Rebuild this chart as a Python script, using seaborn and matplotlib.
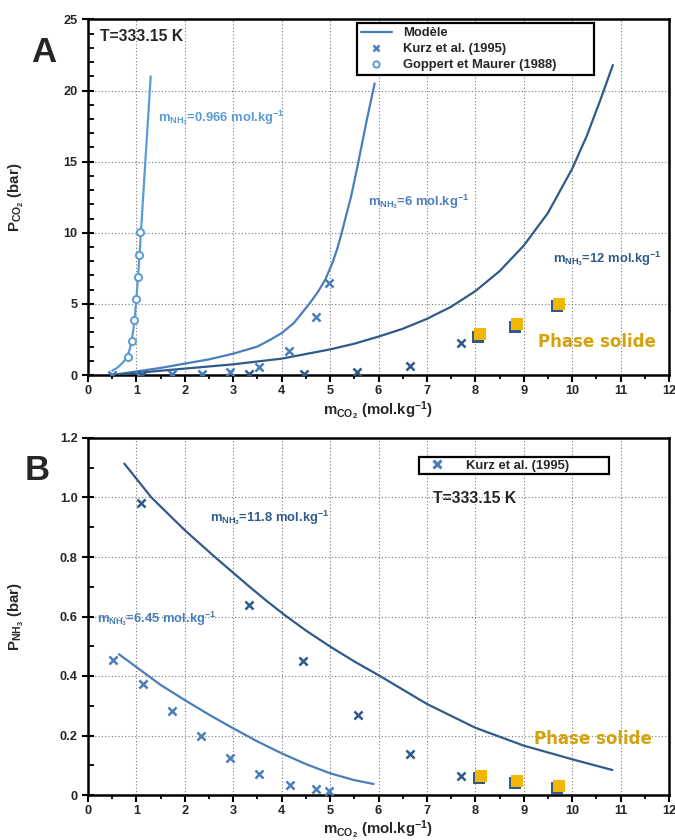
import numpy as np
import pandas as pd
import matplotlib
matplotlib.use("Agg")
import matplotlib.pyplot as plt
import matplotlib.transforms as mtransforms
from matplotlib.lines import Line2D
from matplotlib.ticker import MultipleLocator, FuncFormatter
import seaborn as sns

# ---------------- Panel A data (P_CO2) ----------------
modelA_0966_m = [0.5, 0.6, 0.7, 0.8, 0.87, 0.92, 0.96, 1.0, 1.04, 1.08, 1.12, 1.18, 1.24, 1.295]
modelA_0966_P = [0.3, 0.5, 0.8, 1.2, 1.9, 2.8, 3.8, 5.4, 7.2, 9.3, 11.5, 14.8, 18.0, 21.0]

modelA_6_m = [0.5, 1.0, 1.5, 2.0, 2.5, 3.0, 3.5, 3.75, 4.0, 4.25, 4.57, 4.75, 4.9, 5.05, 5.15,
              5.24, 5.33, 5.43, 5.5, 5.585, 5.75, 5.92]
modelA_6_P = [0.0, 0.25, 0.5, 0.8, 1.1, 1.5, 2.0, 2.45, 2.95, 3.65, 5.0, 5.85, 6.7, 7.9, 8.9,
              10.0, 11.2, 12.5, 13.6, 15.0, 17.8, 20.5]

modelA_12_m = [0.5, 1.0, 2.0, 3.0, 4.0, 5.0, 5.5, 6.0, 6.5, 7.0, 7.5, 8.0, 8.5, 9.0, 9.5, 10.0,
               10.3, 10.6, 10.84]
modelA_12_P = [0.0, 0.15, 0.45, 0.75, 1.15, 1.8, 2.2, 2.7, 3.25, 3.95, 4.8, 5.9, 7.3, 9.1, 11.4,
               14.5, 16.8, 19.5, 21.8]

kurzA_6_m = [0.5, 1.05, 1.73, 2.35, 2.93, 3.53, 4.16, 4.70, 4.97]
kurzA_6_P = [0.0, 0.0, 0.07, 0.1, 0.2, 0.57, 1.7, 4.1, 6.5]
kurzA_12_m = [1.12, 3.33, 4.46, 5.56, 6.65, 7.71]
kurzA_12_P = [0.0, 0.05, 0.07, 0.18, 0.65, 2.23]
solidA_m = [8.09, 8.84, 9.72]
solidA_P = [2.8, 3.5, 4.95]
goppert_m = [0.83, 0.90, 0.957, 0.99, 1.03, 1.05, 1.08]
goppert_P = [1.24, 2.37, 3.89, 5.34, 6.9, 8.43, 10.07]

# ---------------- Panel B data (P_NH3) ----------------
modelB_118_m = [0.75, 1.31, 2.0, 2.62, 3.3, 3.7, 4.07, 4.5, 5.0, 5.5, 6.03, 7.0, 8.0, 9.0, 10.0, 10.83]
modelB_118_P = [1.114, 1.0, 0.89, 0.8, 0.705, 0.651, 0.604, 0.553, 0.499, 0.449, 0.4, 0.306,
                0.226, 0.166, 0.12, 0.084]
modelB_645_m = [0.64, 1.0, 1.5, 2.0, 2.5, 3.0, 3.5, 4.0, 4.5, 5.0, 5.5, 5.9]
modelB_645_P = [0.473, 0.43, 0.37, 0.319, 0.27, 0.224, 0.18, 0.140, 0.104, 0.073, 0.05, 0.037]

kurzB_645_m = [0.52, 1.13, 1.73, 2.33, 2.94, 3.53, 4.17, 4.70, 4.97]
kurzB_645_P = [0.453, 0.372, 0.281, 0.197, 0.123, 0.069, 0.034, 0.019, 0.013]
kurzB_118_m = [1.10, 3.33, 4.45, 5.57, 6.66, 7.71]
kurzB_118_P = [0.981, 0.638, 0.449, 0.270, 0.139, 0.065]
solidB_m = [8.1, 8.84, 9.72]
solidB_P = [0.062, 0.045, 0.028]

# colours
c_light = "#5B9BD5"
c_mid = "#4A7EBB"
c_dark = "#2F5A8A"
c_gold = "#F2B705"
c_gold_txt = "#D4A20C"

sns.set_theme(style="ticks")
plt.rcParams["font.family"] = ["Liberation Sans", "DejaVu Sans"]
plt.rcParams["font.weight"] = "bold"
plt.rcParams["mathtext.fontset"] = "custom"
plt.rcParams["mathtext.rm"] = "Liberation Sans:bold"
plt.rcParams["mathtext.it"] = "Liberation Sans:bold"
plt.rcParams["mathtext.bf"] = "Liberation Sans:bold"
plt.rcParams["mathtext.sf"] = "Liberation Sans:bold"

fig = plt.figure(figsize=(6.75, 8.4), dpi=100)
axA = fig.add_axes([88 / 675, 1 - 375 / 840, 581 / 675, 355.5 / 840])
axB = fig.add_axes([88 / 675, 1 - 795 / 840, 581 / 675, 357 / 840])

TICK_FS = 9.2
LAB_FS = 10.8
NOTE_FS = 9.4


def style(ax, ymax, ymaj, ymin, yfmt):
    ax.set_xlim(0, 12)
    ax.set_ylim(0, ymax)
    ax.xaxis.set_major_locator(MultipleLocator(1))
    ax.xaxis.set_minor_locator(MultipleLocator(0.5))
    ax.yaxis.set_major_locator(MultipleLocator(ymaj))
    ax.yaxis.set_minor_locator(MultipleLocator(ymin))
    ax.yaxis.set_major_formatter(FuncFormatter(yfmt))
    ax.xaxis.set_major_formatter(FuncFormatter(lambda v, p: f"{int(round(v))}"))
    ax.grid(True, which="major", ls=(0, (1, 2)), color="#777777", lw=0.8)
    ax.set_axisbelow(True)
    for s in ax.spines.values():
        s.set_visible(True)
        s.set_linewidth(1.8)
        s.set_color("black")
    ax.tick_params(axis="x", which="major", direction="out", length=5, width=1.5,
                   labelsize=TICK_FS, color="black", pad=2)
    ax.tick_params(axis="x", which="minor", direction="out", length=3, width=1.3, color="black")
    ax.tick_params(axis="y", which="major", direction="inout", length=8, width=1.5,
                   labelsize=TICK_FS, color="black", pad=3.5)
    ax.tick_params(axis="y", which="minor", direction="in", length=4, width=1.3, color="black")
    ax.set_facecolor("white")


def curve(ax, m, P, color):
    df = pd.DataFrame({"m": m, "P": P})
    sns.lineplot(data=df, x="m", y="P", ax=ax, color=color, lw=1.6,
                 sort=False, estimator=None, zorder=3)


def crosses(ax, m, P, color):
    sns.scatterplot(x=m, y=P, ax=ax, marker="x", s=34, color=color,
                    linewidth=1.8, zorder=5)


def solids(ax, m, P):
    shadow = mtransforms.offset_copy(ax.transData, fig=fig, x=-1.5, y=-1.5, units="dots")
    front = mtransforms.offset_copy(ax.transData, fig=fig, x=0.8, y=0.8, units="dots")
    ax.scatter(m, P, marker="s", s=80, color=c_dark, linewidths=0, zorder=6, transform=shadow)
    ax.scatter(m, P, marker="s", s=80, color=c_gold, linewidths=0, zorder=7, transform=front)


# ---------------- Panel A ----------------
style(axA, 25, 5, 1, lambda v, p: f"{int(round(v))}")
curve(axA, modelA_0966_m, modelA_0966_P, c_light)
curve(axA, modelA_6_m, modelA_6_P, c_mid)
curve(axA, modelA_12_m, modelA_12_P, c_dark)
crosses(axA, kurzA_6_m, kurzA_6_P, c_mid)
crosses(axA, kurzA_12_m, kurzA_12_P, c_dark)
axA.scatter(goppert_m, goppert_P, marker="o", s=26, facecolors="white",
            edgecolors=c_light, linewidths=1.4, zorder=5)
solids(axA, solidA_m, solidA_P)
axA.set_xlim(0, 12)
axA.set_ylim(0, 25)

axA.set_xlabel(r"$m_{CO_2}$ (mol.kg$^{-1}$)", fontsize=LAB_FS, fontweight="bold")
axA.set_ylabel(r"$P_{CO_2}$ (bar)", fontsize=LAB_FS, fontweight="bold")
axA.xaxis.set_label_coords(0.5, -0.068)
axA.yaxis.set_label_coords(-0.106, 0.5)

axA.text(0.25, 23.8, "T=333.15 K", fontsize=11.3, fontweight="bold", ha="left", va="center")
axA.text(1.45, 17.8, r"$m_{NH_3}$=0.966 mol.kg$^{-1}$", fontsize=NOTE_FS, color=c_light,
         fontweight="bold", ha="left", va="baseline")
axA.text(5.79, 11.9, r"$m_{NH_3}$=6 mol.kg$^{-1}$", fontsize=NOTE_FS, color=c_mid,
         fontweight="bold", ha="left", va="baseline")
axA.text(9.60, 7.95, r"$m_{NH_3}$=12 mol.kg$^{-1}$", fontsize=NOTE_FS, color=c_dark,
         fontweight="bold", ha="left", va="baseline")
axA.text(10.52, 2.0, "Phase solide", fontsize=12, color=c_gold_txt, fontweight="bold",
         family="DejaVu Sans", ha="center", va="baseline")

handlesA = [
    Line2D([], [], color=c_mid, lw=1.6, label="Modèle"),
    Line2D([], [], color=c_mid, marker="x", ls="none", ms=5, mew=1.8, label="Kurz et al. (1995)"),
    Line2D([], [], color=c_light, marker="o", mfc="white", ls="none", ms=4.5, mew=1.4,
           label="Goppert et Maurer (1988)"),
]
legA = axA.legend(handles=handlesA, loc="upper left", bbox_to_anchor=(0.463, 0.5, 0.408, 0.49),
                  mode="expand", borderaxespad=0, fancybox=False, framealpha=1,
                  edgecolor="black", fontsize=NOTE_FS, labelspacing=0.3, borderpad=0.3,
                  handlelength=2.35, handletextpad=0.9)
legA.get_frame().set_linewidth(1.6)

# ---------------- Panel B ----------------
style(axB, 1.2, 0.2, 0.1, lambda v, p: "0" if abs(v) < 1e-9 else f"{v:.1f}")
curve(axB, modelB_118_m, modelB_118_P, c_dark)
curve(axB, modelB_645_m, modelB_645_P, c_mid)
crosses(axB, kurzB_645_m, kurzB_645_P, c_mid)
crosses(axB, kurzB_118_m, kurzB_118_P, c_dark)
solids(axB, solidB_m, solidB_P)
axB.set_xlim(0, 12)
axB.set_ylim(0, 1.2)

axB.set_xlabel(r"$m_{CO_2}$ (mol.kg$^{-1}$)", fontsize=LAB_FS, fontweight="bold")
axB.set_ylabel(r"$P_{NH_3}$ (bar)", fontsize=LAB_FS, fontweight="bold")
axB.xaxis.set_label_coords(0.5, -0.066)
axB.yaxis.set_label_coords(-0.106, 0.5)

axB.text(7.13, 0.998, "T=333.15 K", fontsize=11.3, fontweight="bold", ha="left", va="center")
axB.text(2.52, 0.919, r"$m_{NH_3}$=11.8 mol.kg$^{-1}$", fontsize=NOTE_FS, color=c_dark,
         fontweight="bold", ha="left", va="baseline")
axB.text(0.19, 0.579, r"$m_{NH_3}$=6.45 mol.kg$^{-1}$", fontsize=NOTE_FS, color=c_mid,
         fontweight="bold", ha="left", va="baseline")
axB.text(10.43, 0.171, "Phase solide", fontsize=12, color=c_gold_txt, fontweight="bold",
         family="DejaVu Sans", ha="center", va="baseline")

handlesB = [Line2D([], [], color=c_mid, marker="x", ls="none", ms=5.5, mew=2.2,
                   label="Kurz et al. (1995)")]
legB = axB.legend(handles=handlesB, loc="upper left", bbox_to_anchor=(0.570, 0.5, 0.327, 0.447),
                  mode="expand", borderaxespad=0, fancybox=False, framealpha=1,
                  edgecolor="black", fontsize=NOTE_FS, borderpad=0.2, handlelength=2.4,
                  handletextpad=1.0)
legB.get_frame().set_linewidth(1.6)

# Panel letters
fig.text(43.5 / 675, 1 - 62 / 840, "A", fontsize=25, fontweight="bold", ha="center", va="baseline")
fig.text(37 / 675, 1 - 480 / 840, "B", fontsize=25, fontweight="bold", ha="center", va="baseline")

fig.savefig("out.png", dpi=100, facecolor="white")
